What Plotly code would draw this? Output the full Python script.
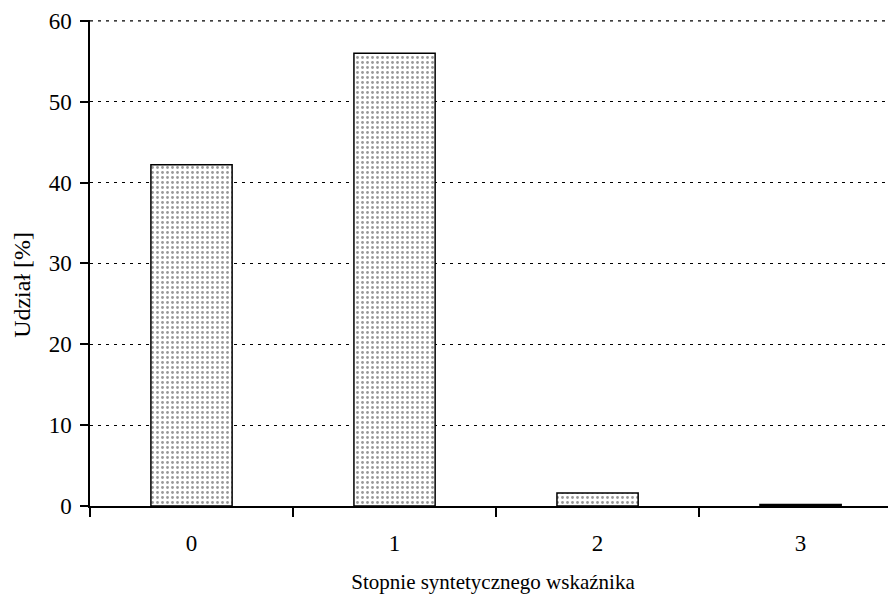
import plotly.graph_objects as go

categories = ["0", "1", "2", "3"]
values = [42.2, 56.0, 1.6, 0.2]
y_ticks = [0, 10, 20, 30, 40, 50, 60]

tick_font = dict(family="Liberation Serif", size=23, color="black")
title_font = dict(family="Liberation Serif", size=21, color="black")
ytitle_font = dict(family="Liberation Serif", size=24, color="black")

fig = go.Figure(go.Bar(
    x=categories, y=values, width=0.4,
    marker=dict(color="white",
                line=dict(color="black", width=1.5),
                pattern=dict(shape=".", fgcolor="#333333", bgcolor="white", size=5, solidity=0.25)),
))

fig.update_layout(
    width=888, height=595,
    margin=dict(l=82, r=0, t=12, b=97),
    plot_bgcolor="white", paper_bgcolor="white",
    font=tick_font, showlegend=False,
    bargap=0.6,
)
fig.add_annotation(
    text="Udział [%]", xref="paper", yref="paper", x=0, y=0.455,
    xanchor="center", yanchor="middle", xshift=-68, textangle=-90,
    showarrow=False, font=ytitle_font,
)
# top gridline (at the highest tick), which Plotly drops at the range edge
fig.add_shape(
    type="line", xref="paper", yref="y", x0=0, x1=1, y0=y_ticks[-1], y1=y_ticks[-1],
    line=dict(color="black", width=1.2, dash="3px,5px"), layer="below",
)
fig.update_xaxes(
    type="category", range=[-0.5, 3.47],
    showline=True, linecolor="black", linewidth=1.5,
    ticks="outside", tickson="boundaries", ticklen=9, tickcolor="black", tickwidth=1.5,
    ticklabelstandoff=16,
    showgrid=False,
    title=dict(text="Stopnie syntetycznego wskaźnika", standoff=19, font=title_font),
    tickfont=tick_font,
)
fig.update_yaxes(
    range=[0, 60.1], tickvals=y_ticks,
    showline=True, linecolor="black", linewidth=1.5,
    ticks="outside", ticklen=8, tickcolor="black", tickwidth=1.5,
    ticklabelstandoff=4,
    showgrid=True, gridcolor="black", griddash="3px,5px", gridwidth=1.2,
    zeroline=False,
    tickfont=tick_font,
)

fig.write_html("out.html")
